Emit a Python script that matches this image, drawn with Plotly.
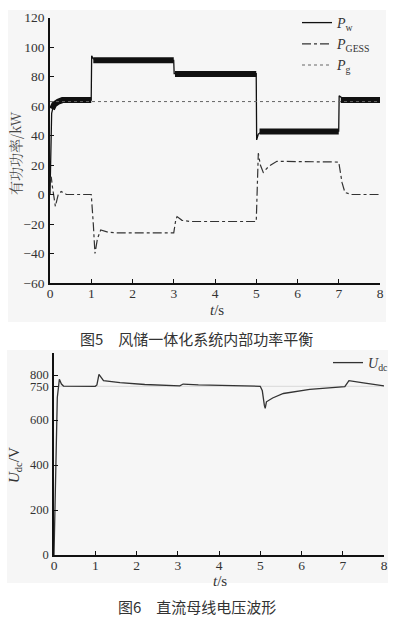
import plotly.graph_objects as go

W, H = 397, 619

# ---------------- Figure 5 data ----------------
pw_t = [0, 0.02, 0.04, 0.08, 0.15, 0.3, 0.999, 1.01, 1.05, 1.15, 2.999, 3.01, 3.1,
        4.999, 5.01, 5.05, 5.15, 6.999, 7.01, 7.1, 8]
pw_v = [0, 40, 55, 60, 62, 64, 64, 94, 92, 91, 91, 82, 82,
        82, 37, 41, 43, 43, 67, 65, 64]

# thick oscillation band of P_w (plateaus), None separates segments
band_t = [0.05, 0.1, 0.2, 0.3, 1.0, None, 1.05, 3.0, None, 3.03, 5.0, None, 5.08, 7.0, None, 7.05, 8.0]
band_v = [58, 61, 63, 64, 64, None, 91, 91, None, 81.7, 81.7, None, 42.7, 42.7, None, 64, 64]

gess_t = [0, 0.03, 0.06, 0.13, 0.2, 0.27, 0.4, 1.0, 1.05, 1.09, 1.15, 1.23, 1.4, 1.6,
          3.0, 3.05, 3.08, 3.2, 3.4, 5.0, 5.05, 5.1, 5.17, 5.3, 5.5, 5.7,
          7.0, 7.08, 7.15, 7.3, 8]
gess_v = [10, 12, 5, -8, 0, 2, 0, 0, -20, -40, -30, -24, -25.5, -26,
          -26, -17, -15, -17.5, -18.3, -18.3, 28, 20, 15, 19, 22.5, 22.5,
          22, 8, 1.4, 0, 0]

pg_t = [0, 8]
pg_v = [63, 63]

p_ticks = [-60, -40, -20, 0, 20, 40, 60, 80, 100, 120]
t_ticks = [0, 1, 2, 3, 4, 5, 6, 7, 8]

# ---------------- Figure 6 data ----------------
udc_t = [0, 0.04, 0.08, 0.13, 0.18, 0.23, 1.0, 1.04, 1.09, 1.2, 1.6, 2.2, 3.0, 3.05,
         3.13, 3.5, 5.0, 5.05, 5.1, 5.12, 5.15, 5.3, 5.56, 6.2, 7.05, 7.1, 7.15, 7.5, 8]
udc_v = [0, 300, 700, 781, 760, 751, 750, 756, 803, 775, 766, 758, 750, 752,
         760, 756, 750, 730, 665, 652, 681, 698, 718, 736, 748, 765, 775, 765, 752]
uref_t = [0, 8]
uref_v = [750, 750]
u_ticks = [0, 200, 400, 600, 750, 800]

SERIF = "Times New Roman, Liberation Serif, serif"
TXT = "#333333"

def py(px):
    return 1 - px / H

def pxx(px):
    return px / W

fig = go.Figure()

# Figure 5 traces
fig.add_trace(go.Scatter(x=band_t, y=band_v, mode="lines", showlegend=False,
                         line=dict(color="#111111", width=6), hoverinfo="skip",
                         xaxis="x", yaxis="y", connectgaps=False))
fig.add_trace(go.Scatter(x=pw_t, y=pw_v, mode="lines", name="<i>P</i><sub>w</sub>",
                         line=dict(color="#111111", width=1.3),
                         xaxis="x", yaxis="y", legend="legend"))
fig.add_trace(go.Scatter(x=gess_t, y=gess_v, mode="lines", name="<i>P</i><sub>GESS</sub>",
                         line=dict(color="#333333", width=1.2, dash="dashdot"),
                         xaxis="x", yaxis="y", legend="legend"))
fig.add_trace(go.Scatter(x=pg_t, y=pg_v, mode="lines", name="<i>P</i><sub>g</sub>",
                         line=dict(color="#666666", width=1, dash="dot"),
                         xaxis="x", yaxis="y", legend="legend"))

# Figure 6 traces
fig.add_trace(go.Scatter(x=uref_t, y=uref_v, mode="lines", showlegend=False,
                         line=dict(color="#d8d8d8", width=1), hoverinfo="skip",
                         xaxis="x2", yaxis="y2"))
fig.add_trace(go.Scatter(x=udc_t, y=udc_v, mode="lines", name="<i>U</i><sub>dc</sub>",
                         line=dict(color="#333333", width=1.3),
                         xaxis="x2", yaxis="y2", legend="legend2"))

axis_common = dict(showline=True, linecolor="#111111", linewidth=1.5, ticks="inside",
                   ticklen=4, tickwidth=1.2, tickcolor="#111111", showgrid=False,
                   zeroline=False, mirror=False, automargin=False)
tf = dict(family=SERIF, size=13.5, color=TXT)

fig.update_layout(
    width=W, height=H, paper_bgcolor="white", plot_bgcolor="rgba(0,0,0,0)",
    margin=dict(l=0, r=0, t=0, b=0, autoexpand=False),
    xaxis=dict(domain=[pxx(50), pxx(380)], range=[0, 8], tickvals=t_ticks,
               anchor="y", ticklabelstandoff=-3, tickfont=tf, **axis_common),
    yaxis=dict(domain=[py(283), py(17.5)], range=[-60, 120], tickvals=p_ticks,
               anchor="x", ticklabelstandoff=1, tickfont=tf, **axis_common),
    xaxis2=dict(domain=[pxx(54), pxx(384)], range=[0, 8], tickvals=t_ticks,
                anchor="y2", ticklabelstandoff=-3, tickfont=tf, **axis_common),
    yaxis2=dict(domain=[py(555), py(353)], range=[0, 898], tickvals=u_ticks,
                anchor="x2", ticklabelstandoff=1,
                tickfont=dict(family=SERIF, size=12.5, color=TXT), **axis_common),
    legend=dict(x=pxx(297), y=py(7), xanchor="left", yanchor="top",
                bgcolor="rgba(0,0,0,0)", font=dict(family=SERIF, size=14, color=TXT),
                tracegroupgap=0, itemwidth=30),
    legend2=dict(x=pxx(328), y=py(347), xanchor="left", yanchor="top",
                 bgcolor="rgba(0,0,0,0)", font=dict(family=SERIF, size=14, color=TXT),
                 itemwidth=30),
    showlegend=True,
)

# panel backgrounds
fig.add_shape(type="rect", xref="paper", yref="paper", x0=pxx(8), x1=pxx(386),
              y0=py(322), y1=py(10), fillcolor="#f6f6f6", line=dict(width=0), layer="below")
fig.add_shape(type="rect", xref="paper", yref="paper", x0=pxx(7), x1=pxx(388),
              y0=py(583), y1=py(350), fillcolor="#f6f6f6", line=dict(width=0), layer="below")

# axis titles and captions
ann = [
    dict(text="有功功率/kW", x=pxx(15), y=py(153), textangle=-90,
         font=dict(family="Noto Serif CJK SC, Noto Sans CJK SC", size=14, color="#444444")),
    dict(text="<i>t</i>/s", x=pxx(217), y=py(310),
         font=dict(family=SERIF, size=15, color=TXT)),
    dict(text="图5　风储一体化系统内部功率平衡", x=pxx(196), y=py(338),
         font=dict(family="Noto Sans CJK SC", size=15, color="#333333")),
    dict(text="<i>U</i><sub>dc</sub>/V", x=pxx(15), y=py(465), textangle=-90,
         font=dict(family=SERIF, size=15, color=TXT)),
    dict(text="<i>t</i>/s", x=pxx(220), y=py(581),
         font=dict(family=SERIF, size=15, color=TXT)),
    dict(text="图6　直流母线电压波形", x=pxx(197), y=py(606),
         font=dict(family="Noto Sans CJK SC", size=15, color="#333333")),
]
for a in ann:
    fig.add_annotation(xref="paper", yref="paper", showarrow=False,
                       xanchor="center", yanchor="middle", **a)

fig.write_html("out.html", config={"displayModeBar": False},
               post_script="document.body.style.margin='0';document.body.style.overflow='hidden';")
